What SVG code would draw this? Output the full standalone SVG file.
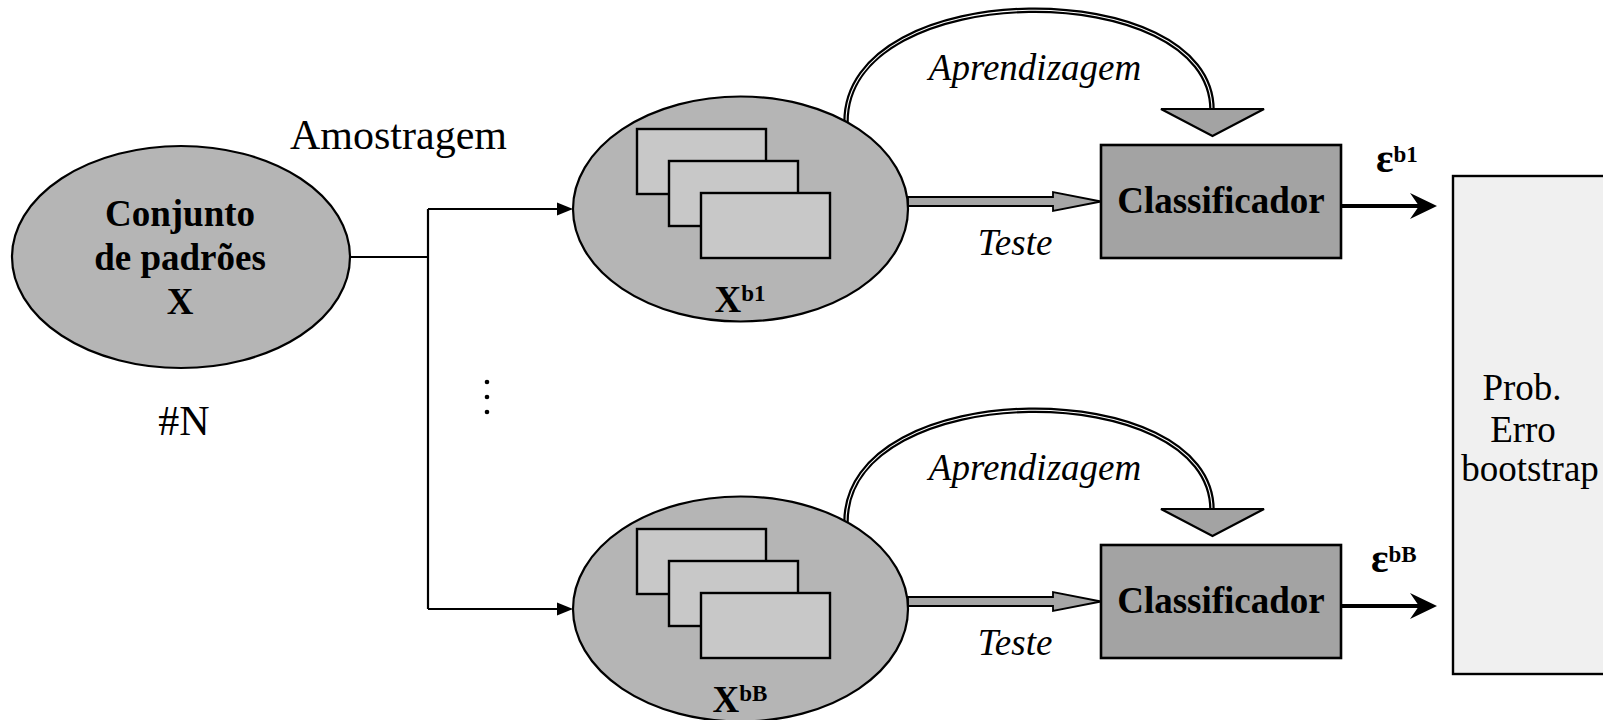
<svg xmlns="http://www.w3.org/2000/svg" width="1603" height="720" viewBox="0 0 1603 720">
<style>
  .oval { fill: #b5b5b5; stroke: #000; stroke-width: 2.2; }
  .sheet { fill: #c8c8c8; stroke: #000; stroke-width: 2.4; }
  .classif { fill: #a3a3a3; stroke: #000; stroke-width: 2.6; }
  .result { fill: #f0f0f0; stroke: #000; stroke-width: 2.4; }
  .wire { fill: none; stroke: #000; stroke-width: 2.2; }
  .thick { fill: none; stroke: #000; stroke-width: 4; }
  .dbl-outer { fill: none; stroke: #000; stroke-width: 5.5; }
  .dbl-inner { fill: none; stroke: #fff; stroke-width: 1.1; }
  .hollow { fill: #a6a6a6; stroke: #000; stroke-width: 1.8; stroke-linejoin: miter; }
  .tri { fill: #a3a3a3; stroke: #000; stroke-width: 2.2; stroke-linejoin: miter; }
  text { font-family: "Liberation Serif", "Times New Roman", serif; fill: #000; }
  .b { font-weight: bold; font-size: 37px; }
  .eps { font-weight: bold; font-size: 41px; }
  .r { font-size: 37px; }
  .big { font-size: 42px; }
  .it { font-style: italic; font-size: 37px; }
  .sup { font-size: 23px; font-weight: bold; }
</style>

<g id="connectors">
  <path class="wire" d="M350,257 H428 M428,209 V609"/>
  <path class="wire" d="M428,209 H560"/>
  <path d="M557,202.5 L573,209 L557,215.5 Z" fill="#000"/>
  <path class="wire" d="M428,609 H560"/>
  <path d="M557,602.5 L573,609 L557,615.5 Z" fill="#000"/>
  <circle cx="487" cy="382" r="2.3" fill="#000"/>
  <circle cx="487" cy="397" r="2.3" fill="#000"/>
  <circle cx="487" cy="412" r="2.3" fill="#000"/>

  <!-- Aprendizagem arcs -->
  <path class="dbl-outer" d="M846,122 C846,-25 1212,-25 1212,110"/>
  <path class="dbl-inner" d="M846,122 C846,-25 1212,-25 1212,110"/>
  <path class="tri" d="M1161,109 L1264,109 L1212.5,136 Z"/>
  <path class="dbl-outer" d="M846,522 C846,375 1212,375 1212,510"/>
  <path class="dbl-inner" d="M846,522 C846,375 1212,375 1212,510"/>
  <path class="tri" d="M1161,509 L1264,509 L1212.5,536 Z"/>

  <!-- Teste arrows -->
  <path class="hollow" d="M908,197 H1053 V192 L1101,201.5 L1053,211 V206 H908 Z"/>
  <path class="hollow" d="M908,597 H1053 V592 L1101,601.5 L1053,611 V606 H908 Z"/>

  <!-- result arrows -->
  <path class="thick" d="M1341,206 H1424"/>
  <path d="M1437,206 L1410,193 L1419,206 L1410,219 Z" fill="#000"/>
  <path class="thick" d="M1341,606 H1424"/>
  <path d="M1437,606 L1410,593 L1419,606 L1410,619 Z" fill="#000"/>
</g>

<g id="node-conjunto">
  <ellipse class="oval" cx="181" cy="257" rx="169" ry="111"/>
  <text class="b" x="180" y="226" text-anchor="middle">Conjunto</text>
  <text class="b" x="180" y="270" text-anchor="middle">de padrões</text>
  <text class="b" x="180" y="314" text-anchor="middle">X</text>
</g>

<g id="label-amostragem">
  <text class="big" x="290" y="149">Amostragem</text>
</g>
<g id="label-n">
  <text class="big" x="184" y="435" text-anchor="middle">#N</text>
</g>

<g id="node-xb1">
  <ellipse class="oval" cx="740.5" cy="209" rx="167.5" ry="112.5"/>
  <rect class="sheet" x="637" y="129" width="129" height="65"/>
  <rect class="sheet" x="669" y="161" width="129" height="65"/>
  <rect class="sheet" x="701" y="193" width="129" height="65"/>
  <text class="b" x="740" y="312" text-anchor="middle">X<tspan class="sup" dy="-11">b1</tspan></text>
</g>

<g id="node-xbB">
  <ellipse class="oval" cx="740.5" cy="609" rx="167.5" ry="112.5"/>
  <rect class="sheet" x="637" y="529" width="129" height="65"/>
  <rect class="sheet" x="669" y="561" width="129" height="65"/>
  <rect class="sheet" x="701" y="593" width="129" height="65"/>
  <text class="b" x="740" y="712" text-anchor="middle">X<tspan class="sup" dy="-11">bB</tspan></text>
</g>

<g id="labels-edges">
  <text class="it" x="1035" y="80" text-anchor="middle">Aprendizagem</text>
  <text class="it" x="1015" y="255" text-anchor="middle">Teste</text>
  <text class="it" x="1035" y="480" text-anchor="middle">Aprendizagem</text>
  <text class="it" x="1015" y="655" text-anchor="middle">Teste</text>
  <text class="eps" x="1376" y="172">ε<tspan class="sup" dy="-10">b1</tspan></text>
  <text class="eps" x="1371" y="572">ε<tspan class="sup" dy="-10">bB</tspan></text>
</g>

<g id="node-classif1">
  <rect class="classif" x="1101" y="145" width="240" height="113"/>
  <text class="b" x="1221" y="213" text-anchor="middle">Classificador</text>
</g>

<g id="node-classifB">
  <rect class="classif" x="1101" y="545" width="240" height="113"/>
  <text class="b" x="1221" y="613" text-anchor="middle">Classificador</text>
</g>

<g id="node-prob">
  <rect class="result" x="1453" y="176" width="170" height="498"/>
  <text class="r" x="1522" y="400" text-anchor="middle">Prob.</text>
  <text class="r" x="1523" y="442" text-anchor="middle">Erro</text>
  <text class="r" x="1530" y="481" text-anchor="middle">bootstrap</text>
</g>
</svg>
